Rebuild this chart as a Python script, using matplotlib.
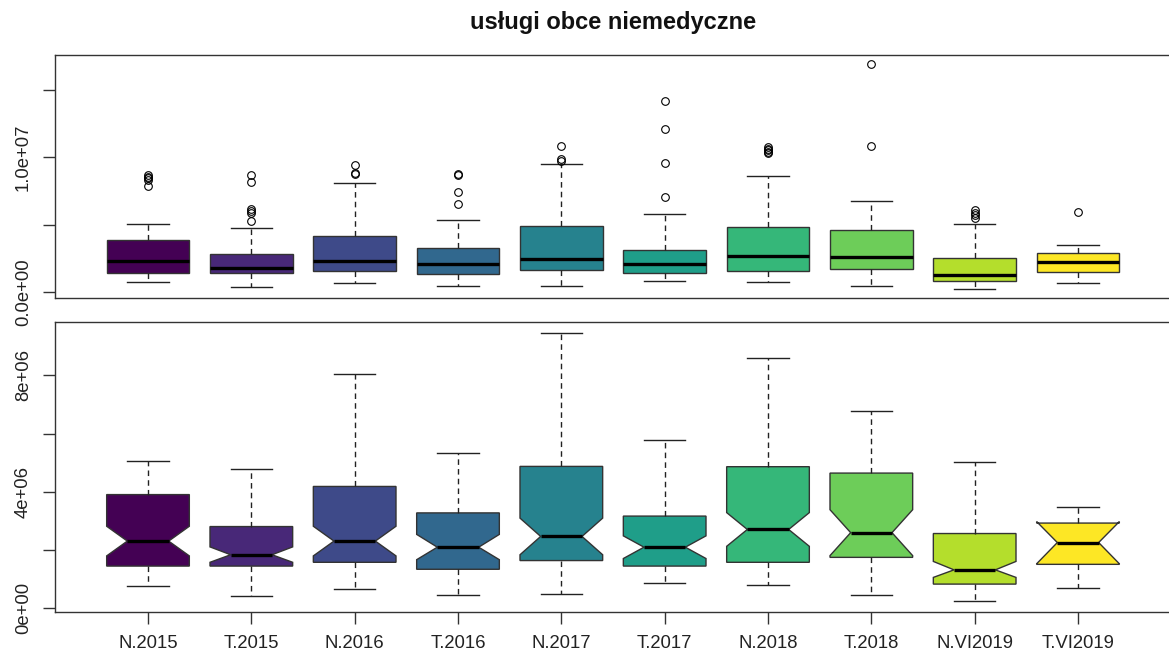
import matplotlib.pyplot as plt
import numpy as np

plt.rcParams['font.family'] = ['Liberation Sans', 'DejaVu Sans']

labels = ['N.2015', 'T.2015', 'N.2016', 'T.2016', 'N.2017',
          'T.2017', 'N.2018', 'T.2018', 'N.VI2019', 'T.VI2019']
colors = ['#440154', '#482878', '#3E4A89', '#31688E', '#26828E',
          '#1F9E89', '#35B779', '#6DCD59', '#B4DE2C', '#FDE725']

# box statistics, in millions
whis_lo = [0.75, 0.41, 0.65, 0.45, 0.48, 0.86, 0.78, 0.45, 0.24, 0.70]
q1 = [1.44, 1.44, 1.57, 1.33, 1.63, 1.44, 1.57, 1.74, 0.82, 1.50]
med = [2.30, 1.83, 2.30, 2.09, 2.46, 2.09, 2.70, 2.59, 1.31, 2.25]
q3 = [3.90, 2.80, 4.18, 3.27, 4.87, 3.16, 4.86, 4.64, 2.56, 2.92]
whis_hi = [5.07, 4.77, 8.06, 5.32, 9.47, 5.78, 8.60, 6.79, 5.02, 3.47]
ci_lo = [1.79, 1.57, 1.79, 1.66, 1.83, 1.70, 2.12, 1.80, 1.05, 1.52]
ci_hi = [2.81, 2.10, 2.81, 2.53, 3.09, 2.48, 3.28, 3.38, 1.60, 2.97]

outliers = [
    [8.65, 8.55, 8.45, 8.30, 7.86],
    [8.65, 8.15, 6.18, 6.01, 5.86, 5.25],
    [9.43, 8.82, 8.72],
    [8.77, 8.65, 7.41, 6.53],
    [10.84, 9.88, 9.72],
    [14.16, 12.09, 9.56, 7.04],
    [10.75, 10.62, 10.50, 10.40, 10.30],
    [16.90, 10.84],
    [6.06, 5.86, 5.69, 5.52],
    [5.96],
]


def make_stats(with_fliers):
    stats = []
    for i in range(len(labels)):
        stats.append(dict(label=labels[i],
                          whislo=whis_lo[i] * 1e6, q1=q1[i] * 1e6,
                          med=med[i] * 1e6, q3=q3[i] * 1e6,
                          whishi=whis_hi[i] * 1e6,
                          cilo=ci_lo[i] * 1e6, cihi=ci_hi[i] * 1e6,
                          fliers=np.array(outliers[i]) * 1e6 if with_fliers else np.array([])))
    return stats


def draw(ax, stats, notch):
    pos = np.arange(1, len(labels) + 1)
    bp = ax.bxp(stats, positions=pos, widths=0.8, capwidths=0.4,
                shownotches=notch, showfliers=not notch, patch_artist=True,
                boxprops=dict(edgecolor='#333333', linewidth=1.0),
                whiskerprops=dict(color='#222222', linewidth=1.0, linestyle=(0, (4, 3))),
                capprops=dict(color='#222222', linewidth=1.0),
                medianprops=dict(color='black', linewidth=2.4, solid_capstyle='butt'),
                flierprops=dict(marker='o', markerfacecolor='none', markeredgecolor='black',
                                markersize=5.5, markeredgewidth=0.8))
    for patch, c in zip(bp['boxes'], colors):
        patch.set_facecolor(c)
    ax.set_xlim(0.1, 10.9)
    # R-style 4% padding on the y range
    vals = [s['whislo'] for s in stats] + [s['whishi'] for s in stats]
    for s in stats:
        vals += list(s['fliers'])
    lo, hi = min(vals), max(vals)
    pad = (hi - lo) * 0.04
    ax.set_ylim(lo - pad, hi + pad)
    for sp in ax.spines.values():
        sp.set_color('#333333')
        sp.set_linewidth(1.0)
    ax.tick_params(axis='y', length=8.6, width=1, color='#333333', pad=8,
                   labelsize=13.3, labelcolor='#222222')


fig = plt.figure(figsize=(11.69, 6.59), dpi=100)
ax1 = fig.add_axes([55 / 1169, 0.5478, 1116 / 1169, 0.3687])
ax2 = fig.add_axes([55 / 1169, 0.0718, 1116 / 1169, 0.4396])

draw(ax1, make_stats(True), False)
ax1.set_yticks([0, 5e6, 1e7, 1.5e7])
ax1.set_yticklabels(['0.0e+00', '', '1.0e+07', ''], rotation=90, va='center')
ax1.tick_params(axis='x', bottom=False, labelbottom=False)

draw(ax2, make_stats(False), True)
ax2.set_yticks([0, 2e6, 4e6, 6e6, 8e6])
ax2.set_yticklabels(['0e+00', '', '4e+06', '', '8e+06'], rotation=90, va='center')
ax2.set_xticks(np.arange(1, len(labels) + 1))
ax2.set_xticklabels(labels)
ax2.tick_params(axis='x', length=8.6, width=1, color='#333333', pad=8,
                labelsize=13.3, labelcolor='#222222')

fig.text(613 / 1169, 1 - 22 / 659, 'usługi obce niemedyczne', ha='center', va='center',
         fontsize=17, fontweight='bold', color='#111111')

fig.savefig('out.png', dpi=100)
